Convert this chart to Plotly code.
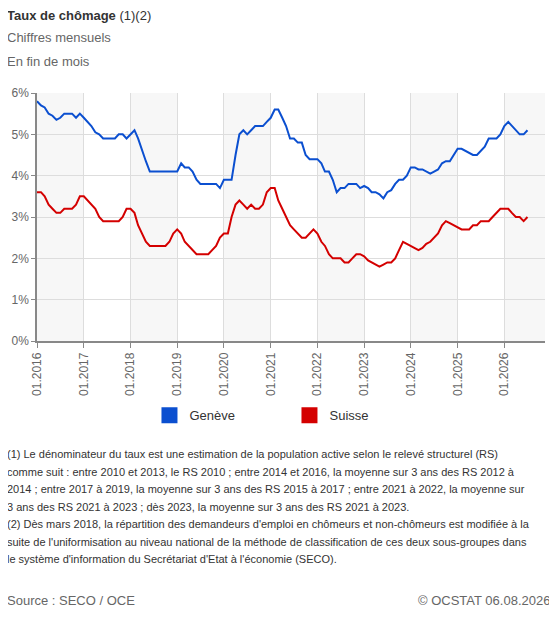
import plotly.graph_objects as go
import pandas as pd

months = pd.date_range("2016-01-01", periods=127, freq="MS")

geneve = [
    5.8, 5.7, 5.65, 5.5, 5.45, 5.35, 5.4, 5.5, 5.5, 5.5, 5.4, 5.5,
    5.4, 5.3, 5.2, 5.05, 5.0, 4.9, 4.9, 4.9, 4.9, 5.0, 5.0, 4.9,
    5.0, 5.1, 4.9, 4.6, 4.35, 4.1, 4.1, 4.1, 4.1, 4.1, 4.1, 4.1,
    4.1, 4.3, 4.2, 4.2, 4.1, 3.9, 3.8, 3.8, 3.8, 3.8, 3.8, 3.7,
    3.9, 3.9, 3.9, 4.5, 5.0, 5.1, 5.0, 5.1, 5.2, 5.2, 5.2, 5.3,
    5.4, 5.6, 5.6, 5.4, 5.2, 4.9, 4.9, 4.8, 4.8, 4.5, 4.4, 4.4,
    4.4, 4.3, 4.1, 4.1, 3.9, 3.6, 3.7, 3.7, 3.8, 3.8, 3.8, 3.7,
    3.75, 3.7, 3.6, 3.6, 3.55, 3.45, 3.6, 3.65, 3.8, 3.9, 3.9, 4.0,
    4.2, 4.2, 4.15, 4.15, 4.1, 4.05, 4.1, 4.15, 4.3, 4.35, 4.35, 4.5,
    4.65, 4.65, 4.6, 4.55, 4.5, 4.5, 4.6, 4.7, 4.9, 4.9, 4.9, 5.0,
    5.2, 5.3, 5.2, 5.1, 5.0, 5.0, 5.1,
]
suisse = [
    3.6, 3.6, 3.5, 3.3, 3.2, 3.1, 3.1, 3.2, 3.2, 3.2, 3.3, 3.5,
    3.5, 3.4, 3.3, 3.2, 3.0, 2.9, 2.9, 2.9, 2.9, 2.9, 3.0, 3.2,
    3.2, 3.1, 2.8, 2.6, 2.4, 2.3, 2.3, 2.3, 2.3, 2.3, 2.4, 2.6,
    2.7, 2.6, 2.4, 2.3, 2.2, 2.1, 2.1, 2.1, 2.1, 2.2, 2.3, 2.5,
    2.6, 2.6, 3.0, 3.3, 3.4, 3.3, 3.2, 3.3, 3.2, 3.2, 3.3, 3.6,
    3.7, 3.7, 3.4, 3.2, 3.0, 2.8, 2.7, 2.6, 2.5, 2.5, 2.6, 2.7,
    2.6, 2.4, 2.3, 2.1, 2.0, 2.0, 2.0, 1.9, 1.9, 2.0, 2.1, 2.1,
    2.05, 1.95, 1.9, 1.85, 1.8, 1.85, 1.9, 1.9, 2.0, 2.2, 2.4, 2.35,
    2.3, 2.25, 2.2, 2.25, 2.35, 2.4, 2.5, 2.6, 2.8, 2.9, 2.85, 2.8,
    2.75, 2.7, 2.7, 2.7, 2.8, 2.8, 2.9, 2.9, 2.9, 3.0, 3.1, 3.2,
    3.2, 3.2, 3.1, 3.0, 3.0, 2.9, 3.0,
]
years = list(range(2016, 2027))
tick_labels = [f"01.{y}" for y in years]

note_lines = [
    "(1) Le dénominateur du taux est une estimation de la population active selon le relevé structurel (RS)",
    "comme suit : entre 2010 et 2013, le RS 2010 ; entre 2014 et 2016, la moyenne sur 3 ans des RS 2012 à",
    "2014 ; entre 2017 à 2019, la moyenne sur 3 ans des RS 2015 à 2017 ; entre 2021 à 2022, la moyenne sur",
    "3 ans des RS 2021 à 2023 ; dès 2023, la moyenne sur 3 ans des RS 2021 à 2023.",
    "(2) Dès mars 2018, la répartition des demandeurs d'emploi en chômeurs et non-chômeurs est modifiée à la",
    "suite de l'uniformisation au niveau national de la méthode de classification de ces deux sous-groupes dans",
    "le système d'information du Secrétariat d'Etat à l'économie (SECO).",
]

blue = "#0b4fd0"
red = "#d40000"
grey = "#666666"
font = "Liberation Sans, Arial, sans-serif"

fig = go.Figure()
fig.add_trace(go.Scatter(x=months, y=[v / 100 for v in geneve], mode="lines",
                         line=dict(color=blue, width=2), showlegend=False))
fig.add_trace(go.Scatter(x=months, y=[v / 100 for v in suisse], mode="lines",
                         line=dict(color=red, width=2), showlegend=False))
# square legend markers
for name, col in [("Genève", blue), ("Suisse", red)]:
    fig.add_trace(go.Scatter(x=[None], y=[None], mode="markers", name=name,
                             marker=dict(symbol="square", size=16, color=col)))

# alternating year bands
for y in years:
    if y % 2 == 0:
        fig.add_vrect(x0=f"{y}-01-01", x1=f"{y + 1}-01-01", fillcolor="#f7f7f7",
                      line_width=0, layer="below")

# page puts the figure 8px in from the corner, so the figure is a bit smaller
fig.update_layout(
    width=549, height=610,
    margin=dict(l=29, r=12, t=85, b=277),
    plot_bgcolor="white", paper_bgcolor="white",
    font=dict(family=font, size=12, color=grey),
    legend=dict(orientation="h", x=0.497, xanchor="center", y=-0.30, yanchor="middle",
                font=dict(size=13, color="#333333"), itemwidth=30, tracegroupgap=0,
                entrywidthmode="pixels", entrywidth=95),
    xaxis=dict(range=["2016-01-01", "2026-11-15"], tickvals=[f"{y}-01-01" for y in years],
               ticktext=tick_labels, tickangle=-90, showgrid=True, gridcolor="#dddddd",
               showline=True, linecolor="#888888", linewidth=1.5, ticks="outside",
               ticklen=5, tickcolor="#888888", tickfont=dict(size=12, color=grey),
               automargin=False),
    yaxis=dict(range=[0, 0.06], tickformat=".0%", dtick=0.01, showgrid=True,
               gridcolor="#dddddd", zeroline=False, showline=True, linecolor="#888888",
               linewidth=1.5, ticks="outside", ticklen=4, tickcolor="#888888",
               tickfont=dict(size=12, color=grey), automargin=False),
)

ann = [
    dict(x=5, y=6, text="<b>Taux de chômage</b> (1)(2)", font=dict(size=13, color="#333333")),
    dict(x=5, y=28, text="Chiffres mensuels", font=dict(size=13, color=grey)),
    dict(x=5, y=52, text="En fin de mois", font=dict(size=13, color=grey)),
    dict(x=5, y=591, text="Source : SECO / OCE", font=dict(size=13, color=grey)),
]
for i, line in enumerate(note_lines):
    ann.append(dict(x=5, y=446 + i * 17.5, text=line, font=dict(size=11, color="#333333")))
for a in ann:
    fig.add_annotation(xref="paper", yref="paper", x=(a["x"] - 37) / 508,
                       y=(341 - a["y"]) / 248, xanchor="left", yanchor="top",
                       text=a["text"], showarrow=False, align="left", font=a["font"])
fig.add_annotation(xref="paper", yref="paper", x=(552 - 37) / 508, y=(341 - 591) / 248,
                   xanchor="right", yanchor="top", text="© OCSTAT 06.08.2026",
                   showarrow=False, font=dict(size=13, color=grey))

fig.write_html("out.html")
